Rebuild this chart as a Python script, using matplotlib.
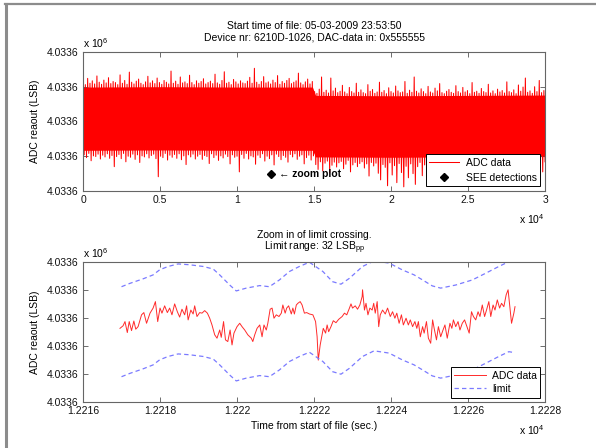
import numpy as np
import matplotlib
matplotlib.use('Agg')
import matplotlib.pyplot as plt
from matplotlib.ticker import FuncFormatter
from matplotlib.lines import Line2D

plt.rcParams['font.family'] = ['Liberation Sans', 'DejaVu Sans']
plt.rcParams['mathtext.fontset'] = 'custom'
plt.rcParams['mathtext.rm'] = 'Liberation Sans'
plt.rcParams['mathtext.it'] = 'Liberation Sans:italic'
plt.rcParams['mathtext.bf'] = 'Liberation Sans:bold'
FS = 7.5

# ---------------- data: full record (top panel) ----------------
TOP_BASE = 4033580
# per-bin maxima / minima of the ADC record (LSB above TOP_BASE), 200 bins over the record
top_hi = [31.2, 30.6, 32.4, 31.0, 31.7, 30.8, 33.1, 31.3, 30.7, 31.9,
          31.1, 32.6, 30.9, 31.5, 31.2, 30.6, 33.4, 31.0, 31.8, 30.7,
          34.2, 31.3, 30.8, 31.6, 32.2, 31.0, 30.6, 31.4, 33.0, 31.1,
          31.7, 30.9, 32.5, 31.2, 30.7, 31.8, 31.3, 30.8, 34.5, 31.0,
          31.6, 30.7, 32.8, 31.1, 31.4, 30.9, 33.3, 31.2, 30.6, 31.7,
          31.0, 31.5, 32.3, 30.8, 31.2, 31.6, 30.9, 33.6, 31.1, 30.7,
          31.8, 34.3, 31.0, 31.3, 30.6, 32.1, 31.4, 30.8, 31.7, 31.1,
          30.9, 31.6, 32.7, 31.0, 35.3, 31.3, 30.7, 31.5, 32.9, 31.1,
          31.4, 30.8, 31.9, 31.2, 33.2, 30.7, 31.5, 31.0, 31.8, 32.4,
          30.9, 31.3, 31.7, 33.9, 31.1, 30.6, 31.4, 32.2, 30.8, 31.5,
          28.6, 28.1, 29.3, 32.8, 28.4, 29.0, 28.2, 32.5, 28.8, 29.6,
          28.3, 28.7, 30.4, 28.5, 28.0, 29.8, 28.6, 28.2, 31.0, 28.4,
          29.1, 28.3, 28.0, 30.6, 28.7, 29.2, 28.1, 28.5, 31.3, 28.4,
          28.9, 28.0, 29.7, 28.6, 28.2, 30.2, 28.8, 28.3, 28.5, 31.5,
          28.1, 29.0, 28.4, 32.8, 28.7, 28.2, 29.4, 28.6, 28.0, 30.1,
          28.5, 28.2, 29.6, 28.8, 30.9, 28.3, 28.0, 28.7, 29.2, 28.4,
          28.1, 30.3, 28.6, 28.2, 29.8, 28.5, 28.9, 28.0, 31.2, 28.4,
          28.7, 28.1, 29.5, 28.6, 28.3, 30.7, 28.2, 28.8, 28.0, 29.3,
          28.5, 28.9, 28.2, 31.4, 28.6, 28.3, 29.1, 28.0, 30.5, 28.7,
          29.9, 32.5, 28.4, 28.8, 28.1, 30.0, 28.6, 31.8, 28.3, 28.9]
top_lo = [10.4, 9.6, 10.8, 8.7, 10.1, 9.9, 10.6, 9.2, 10.3, 9.8,
          10.7, 9.4, 10.2, 7.0, 9.9, 10.5, 9.3, 10.8, 8.4, 10.0,
          9.7, 10.6, 9.1, 10.4, 8.2, 10.1, 9.8, 10.7, 9.5, 10.2,
          10.6, 9.3, 4.1, 10.0, 9.6, 10.8, 8.9, 10.3, 9.7, 10.5,
          9.4, 10.7, 9.0, 10.1, 7.6, 10.4, 9.8, 10.6, 9.2, 10.0,
          10.5, 9.1, 10.2, 9.9, 7.9, 10.7, 9.6, 10.3, 8.8, 10.1,
          9.5, 10.6, 9.9, 7.8, 10.4, 9.7, 10.0, 5.5, 10.5, 9.4,
          10.8, 9.2, 10.1, 9.8, 7.7, 10.3, 9.6, 10.7, 8.6, 10.0,
          9.3, 10.4, 7.5, 10.6, 9.9, 9.0, 10.2, 9.7, 8.3, 10.5,
          9.8, 10.7, 9.1, 10.0, 10.4, 7.8, 9.6, 10.3, 8.9, 10.1,
          7.6, 6.2, 8.4, 5.8, 8.0, 8.6, 5.2, 7.4, 8.3, 6.9,
          8.1, 8.5, 6.4, 7.7, 8.8, 5.5, 7.5, 8.2, 7.0, 7.9,
          8.4, 6.6, 7.8, 4.3, 8.2, 7.2, 8.0, 5.1, 3.2, 7.6,
          6.8, 1.5, 8.1, 4.6, 7.3, 2.4, 7.9, 5.3, 1.2, 7.1,
          3.8, 7.8, 5.0, 1.9, 7.0, 8.2, 4.4, 7.5, 8.3, 5.6,
          7.7, 2.2, 7.3, 8.1, 5.1, 8.5, 6.7, 7.8, 4.8, 8.2,
          7.1, 8.0, 5.4, 8.4, 7.2, 7.6, 4.9, 8.6, 6.5, 7.9,
          6.0, 8.3, 7.1, 7.7, 3.9, 8.4, 6.9, 8.0, 5.2, 8.5,
          7.3, 7.8, 4.7, 8.2, 6.6, 8.0, 5.6, 8.4, 7.0, 7.5,
          6.2, 8.6, 6.8, 7.9, 4.5, 8.3, 7.2, 7.6, 5.5, 8.4]
# dense (always covered) core of the noise band, LSB above TOP_BASE
core_time = [0, 5000, 10000, 14900, 15100, 20000, 25000, 30000]
core_top = [29.9, 30.0, 29.9, 29.9, 27.5, 27.4, 27.5, 27.6]
core_bot = [11.7, 11.8, 11.7, 11.7, 9.8, 9.7, 9.8, 9.9]
record_start = 0
record_end = 30000
see_time = [12222.11]
see_value = [4033585.0]

top_xticks = [0, 5000, 10000, 15000, 20000, 25000, 30000]
top_yticks = [4033580, 4033590, 4033600, 4033610, 4033620]

# ---------------- data: zoom window (bottom panel) ----------------
ZOOM_BASE = 4033570
zoom_time = [12216.96, 12217.04, 12217.09, 12217.15, 12217.20, 12217.26, 12217.32, 12217.37, 12217.43, 12217.52,
             12217.58, 12217.65, 12217.74, 12217.82, 12217.88, 12217.94, 12218.00, 12218.05, 12218.12, 12218.19,
             12218.25, 12218.31, 12218.38, 12218.45, 12218.51, 12218.57, 12218.64, 12218.69, 12218.73, 12218.80,
             12218.86, 12218.90, 12218.96, 12219.03, 12219.09, 12219.16, 12219.23, 12219.29, 12219.35, 12219.42,
             12219.48, 12219.55, 12219.59, 12219.65, 12219.70, 12219.76, 12219.82, 12219.87, 12219.92, 12220.00,
             12220.07, 12220.13, 12220.20, 12220.28, 12220.37, 12220.41, 12220.46, 12220.52, 12220.59, 12220.65,
             12220.70, 12220.76, 12220.80, 12220.86, 12220.91, 12220.96, 12221.02, 12221.09, 12221.15, 12221.19,
             12221.25, 12221.29, 12221.34, 12221.41, 12221.45, 12221.49, 12221.54, 12221.58, 12221.64, 12221.69,
             12221.75, 12221.81, 12221.88, 12221.97, 12222.04, 12222.08, 12222.11, 12222.16, 12222.20, 12222.24,
             12222.30, 12222.34, 12222.38, 12222.44, 12222.50, 12222.57, 12222.64, 12222.73, 12222.79, 12222.85,
             12222.92, 12222.96, 12223.00, 12223.07, 12223.13, 12223.19, 12223.25, 12223.26, 12223.31, 12223.35,
             12223.40, 12223.45, 12223.51, 12223.55, 12223.59, 12223.64, 12223.68, 12223.72, 12223.78, 12223.85,
             12223.91, 12223.98, 12224.04, 12224.10, 12224.15, 12224.21, 12224.27, 12224.32, 12224.39, 12224.45,
             12224.50, 12224.56, 12224.62, 12224.67, 12224.71, 12224.76, 12224.82, 12224.86, 12224.92, 12224.97,
             12225.03, 12225.08, 12225.12, 12225.18, 12225.23, 12225.29, 12225.35, 12225.40, 12225.46, 12225.53,
             12225.58, 12225.62, 12225.68, 12225.74, 12225.79, 12225.85, 12225.91, 12225.97, 12226.03, 12226.09,
             12226.14, 12226.20, 12226.26, 12226.31, 12226.37, 12226.43, 12226.48, 12226.54, 12226.59, 12226.65,
             12226.70, 12226.76, 12226.82, 12226.87, 12226.93, 12226.99, 12227.04, 12227.09, 12227.13, 12227.19,
             12227.22]
zoom_adc = [26.3, 27.2, 28.7, 24.8, 28.7, 25.5, 28.9, 26.0, 26.9, 31.1,
            31.9, 28.1, 31.7, 33.5, 35.8, 28.7, 33.5, 31.7, 34.3, 31.9,
            33.5, 31.1, 35.0, 32.2, 30.3, 33.1, 31.1, 34.3, 29.3, 32.8,
            31.4, 34.3, 30.5, 31.9, 31.7, 32.6, 31.7, 29.9, 27.5, 24.0,
            22.8, 25.7, 23.1, 28.7, 22.2, 21.6, 25.7, 20.4, 24.6, 26.9,
            28.1, 26.9, 25.7, 24.0, 22.8, 21.6, 24.0, 26.3, 27.5, 23.3,
            27.5, 25.7, 28.1, 33.1, 33.5, 29.9, 31.1, 30.5, 31.7, 34.6,
            31.7, 33.5, 34.3, 31.4, 33.5, 31.4, 34.6, 35.2, 35.8, 34.6,
            31.7, 31.9, 31.4, 31.1, 28.7, 23.3, 15.0, 20.4, 23.3, 26.3,
            24.6, 27.5, 25.1, 26.9, 29.0, 28.3, 29.5, 30.5, 31.7, 31.1,
            33.5, 35.0, 33.5, 34.3, 33.1, 34.6, 37.6, 40.0, 32.8, 35.2,
            31.1, 33.5, 32.8, 35.2, 31.7, 35.8, 26.9, 31.1, 32.8, 31.4,
            33.5, 30.5, 32.2, 29.9, 31.7, 28.1, 31.1, 27.5, 29.9, 27.5,
            29.3, 26.9, 28.7, 26.3, 28.7, 23.3, 26.9, 24.6, 28.7, 22.8,
            21.0, 29.3, 26.3, 22.2, 26.9, 23.3, 25.7, 27.5, 22.8, 28.1,
            26.3, 29.3, 26.9, 28.7, 25.7, 28.1, 29.3, 26.9, 24.6, 32.2,
            30.5, 29.3, 32.2, 30.5, 34.6, 30.5, 32.8, 35.8, 30.5, 34.6,
            32.8, 36.4, 33.5, 35.2, 34.0, 38.2, 40.0, 33.5, 28.1, 31.7,
            34.0]
limit_time = [12217.00, 12217.22, 12217.56, 12217.82, 12217.99, 12218.21, 12218.47, 12218.77, 12219.12, 12219.38,
              12219.55, 12219.81, 12219.98, 12220.24, 12220.59, 12220.84, 12221.10, 12221.36, 12221.62, 12221.88,
              12222.23, 12222.48, 12222.70, 12222.92, 12223.26, 12223.56, 12223.95, 12224.29, 12224.60, 12224.82,
              12225.07, 12225.29, 12225.68, 12226.11, 12226.46, 12226.80, 12227.06, 12227.19]
limit_upper = [41.1, 42.3, 43.9, 45.3, 47.1, 48.3, 49.2, 48.9, 48.3, 47.4,
               45.3, 41.7, 39.6, 40.6, 41.5, 41.1, 43.5, 46.5, 48.3, 49.8,
               46.5, 42.9, 42.0, 44.1, 48.3, 50.3, 49.5, 47.1, 45.3, 43.5,
               41.4, 40.6, 41.7, 43.5, 45.9, 48.3, 50.0, 49.7]
limit_lower = [9.1, 10.3, 11.9, 13.3, 15.1, 16.3, 17.2, 16.9, 16.3, 15.4,
               13.3, 9.7, 7.6, 8.6, 9.5, 9.1, 11.5, 14.5, 16.3, 17.8,
               14.5, 10.9, 10.0, 12.1, 16.3, 18.3, 17.5, 15.1, 13.3, 11.5,
               9.4, 8.6, 9.7, 11.5, 13.9, 16.3, 18.0, 17.7]

bot_xticks = [12216, 12218, 12220, 12222, 12224, 12226, 12228]
bot_yticks = [4033570, 4033580, 4033590, 4033600, 4033610, 4033620]

# ---------------- figure ----------------
fig = plt.figure(figsize=(5.96, 4.48), dpi=100)
ax1 = fig.add_axes([0.1393, 0.5737, 0.7752, 0.3103])
ax2 = fig.add_axes([0.1393, 0.1020, 0.7752, 0.3139])

# top: full record
hi = TOP_BASE + np.asarray(top_hi)
lo = TOP_BASE + np.asarray(top_lo)
y_top = np.column_stack([hi, lo]).ravel()
t_top = np.linspace(record_start, record_end, y_top.size)
ax1.fill_between(core_time, TOP_BASE + np.asarray(core_bot),
                 TOP_BASE + np.asarray(core_top), color='#ff0000', lw=0)
ax1.plot(t_top, y_top, color='#ff0000', lw=0.75, label='ADC data')
ax1.plot(see_time, see_value, linestyle='none', marker='D', color='black',
         ms=3.6, label='SEE detections')
ax1.annotate('\u2190 zoom plot', xy=(see_time[0], see_value[0]), xytext=(5.5, 0),
             textcoords='offset points', va='center', ha='left', fontsize=FS,
             fontweight='bold')
ax1.set_xlim(record_start, record_end)
ax1.set_ylim(top_yticks[0], top_yticks[-1])
ax1.set_xticks(top_xticks)
ax1.set_yticks(top_yticks)
ax1.set_title('Start time of file: 05-03-2009 23:53:50\n'
              'Device nr: 6210D-1026, DAC-data in: 0x555555',
              fontsize=FS, pad=8, linespacing=1.2)

# bottom: zoom
ax2.plot(zoom_time, ZOOM_BASE + np.asarray(zoom_adc), color='#ff2a2a', lw=0.7,
         label='ADC data')
ax2.plot(limit_time, ZOOM_BASE + np.asarray(limit_upper), color='#7a7aff', lw=0.9,
         linestyle=(0, (3.5, 2.5)), label='limit')
ax2.plot(limit_time, ZOOM_BASE + np.asarray(limit_lower), color='#7a7aff', lw=0.9,
         linestyle=(0, (3.5, 2.5)))
ax2.set_xlim(bot_xticks[0], bot_xticks[-1])
ax2.set_ylim(bot_yticks[0], bot_yticks[-1])
ax2.set_xticks(bot_xticks)
ax2.set_yticks(bot_yticks)
ax2.set_title('Zoom in of limit crossing.\nLimit range: 32 LSB$_{\\mathrm{pp}}$',
              fontsize=FS, pad=8, linespacing=0.95)
ax2.set_xlabel('Time from start of file (sec.)', fontsize=FS, labelpad=3)

yfmt = FuncFormatter(lambda v, p: '%.4f' % (v / 1e6))
xfmt = FuncFormatter(lambda v, p: '%g' % round(v / 1e4, 6))
for ax in (ax1, ax2):
    ax.yaxis.set_major_formatter(yfmt)
    ax.xaxis.set_major_formatter(xfmt)
    ax.tick_params(direction='in', top=True, right=True, length=3.5, width=0.6,
                   color='#555555', labelsize=FS, labelcolor='#111111', pad=3)
    for s in ax.spines.values():
        s.set_color('#666666')
        s.set_linewidth(0.8)
    ax.set_ylabel('ADC reaout (LSB)', fontsize=FS, labelpad=5)
    ax.text(0.0, 1.012, 'x 10$^{6}$', transform=ax.transAxes, ha='left',
            va='bottom', fontsize=FS)
    ax.text(1.0, -0.15, 'x 10$^{4}$', transform=ax.transAxes, ha='right',
            va='top', fontsize=FS)

leg_kw = dict(fontsize=FS, frameon=True, fancybox=False, edgecolor='black',
              framealpha=1, handletextpad=0.6, borderpad=0.35, borderaxespad=0.45)
l1 = ax1.legend(loc='lower right', handlelength=2.9, labelspacing=0.45, **leg_kw)
l2 = ax2.legend(loc='lower right', handlelength=3.0, labelspacing=0.3, **leg_kw)
for lg in (l1, l2):
    lg.get_frame().set_linewidth(0.7)

# window border of the screenshot
fig.add_artist(Line2D([5 / 596, 1], [1 - 4.5 / 448] * 2, transform=fig.transFigure,
                      color='#8c8c8c', lw=1.6))
fig.add_artist(Line2D([5.5 / 596] * 2, [0, 1 - 4.5 / 448], transform=fig.transFigure,
                      color='#8c8c8c', lw=2.2))

fig.savefig('out.png', dpi=100)
